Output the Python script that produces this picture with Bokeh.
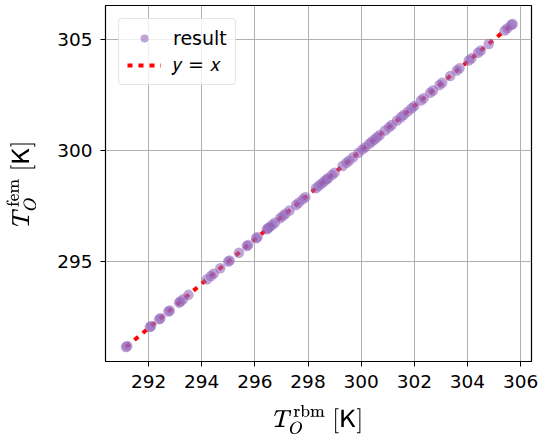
from bokeh.plotting import figure
from bokeh.models import Range1d, FixedTicker, Legend, LegendItem
from bokeh.embed import file_html
from bokeh.resources import INLINE

# Data
t_rbm = [291.15, 291.2, 292.05, 292.1, 292.4, 292.45, 292.75, 292.8, 293.15, 293.2,
         293.3, 293.5, 294.2, 294.35, 294.45, 294.7, 295.0, 295.05, 295.4, 295.7,
         295.75, 296.05, 296.1, 296.45, 296.5, 296.55, 296.65, 296.75, 296.95, 297.05,
         297.15, 297.3, 297.55, 297.65, 297.8, 297.9, 298.3, 298.4, 298.5, 298.6,
         298.7, 298.75, 298.9, 299.0, 299.3, 299.45, 299.55, 299.7, 299.9, 300.05,
         300.15, 300.3, 300.4, 300.5, 300.6, 300.7, 300.9, 301.05, 301.15, 301.35,
         301.5, 301.6, 301.75, 301.9, 302.0, 302.25, 302.35, 302.6, 302.7, 302.95,
         303.05, 303.35, 303.6, 303.7, 304.05, 304.15, 304.4, 304.5, 304.8, 305.4,
         305.5, 305.65, 305.7]
t_fem = list(t_rbm)
line_x = [min(t_rbm), max(t_rbm)]
line_y = list(line_x)
x_ticks = [292, 294, 296, 298, 300, 302, 304, 306]
y_ticks = [295, 300, 305]

p = figure(width=541, height=439, output_backend="svg", toolbar_location=None,
           x_range=Range1d(290.38, 306.41), y_range=Range1d(290.5, 306.53),
           min_border_left=105, min_border_right=10, min_border_top=5, min_border_bottom=78)
p.background_fill_color = "white"
p.border_fill_color = "white"
p.outline_line_color = "black"
p.outline_line_width = 1.2

r_line = p.line(line_x, line_y, line_color="red", line_width=4, line_dash="5 6")
r_pts = p.scatter(t_rbm, t_fem, size=10.5, fill_color="#9467bd", fill_alpha=0.6, line_color=None)

for ax in (p.xaxis[0], p.yaxis[0]):
    ax.major_label_text_font = "DejaVu Sans"
    ax.major_label_text_font_size = "18.5px"
    ax.major_label_text_color = "black"
    ax.axis_line_color = "black"
    ax.major_tick_line_color = "black"
    ax.major_tick_out = 5
    ax.major_tick_in = 0
    ax.minor_tick_line_color = None
    ax.axis_label_text_font_size = "21px"
    ax.axis_label_text_font_style = "normal"
    ax.axis_label_text_color = "black"

p.xaxis[0].ticker = FixedTicker(ticks=x_ticks)
p.yaxis[0].ticker = FixedTicker(ticks=y_ticks)
p.xaxis[0].axis_label = r"$$T_O^{\mathrm{rbm}}\ [\mathsf{K}]$$"
p.yaxis[0].axis_label = r"$$T_O^{\mathrm{fem}}\ [\mathsf{K}]$$"
p.xaxis[0].major_label_standoff = 8
p.yaxis[0].major_label_standoff = 8
p.xaxis[0].axis_label_standoff = 14
p.yaxis[0].axis_label_standoff = 18

p.xgrid.ticker = FixedTicker(ticks=x_ticks)
p.ygrid.ticker = FixedTicker(ticks=y_ticks)
p.grid.grid_line_color = "#b0b0b0"
p.grid.grid_line_width = 1

legend = Legend(items=[LegendItem(label="result", renderers=[r_pts]),
                       LegendItem(label="\U0001D466 = \U0001D465", renderers=[r_line])],
                location="top_left")
legend.margin = 13
legend.padding = 8
legend.spacing = 4
legend.glyph_width = 34
legend.glyph_height = 20
legend.label_standoff = 12
legend.label_text_font = "DejaVu Sans"
legend.label_text_font_size = "19px"
legend.label_text_color = "black"
legend.border_line_color = "#cccccc"
legend.border_line_width = 1
legend.border_radius = 4
legend.background_fill_alpha = 0.8
p.add_layout(legend)

open("out.html", "w").write(file_html(p, INLINE))
